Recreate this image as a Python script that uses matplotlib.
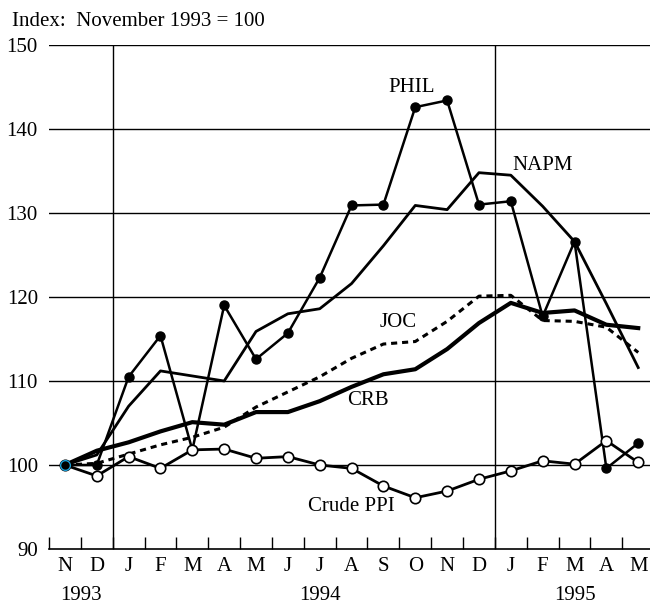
import matplotlib
matplotlib.use("Agg")
import matplotlib.pyplot as plt
import matplotlib.transforms as mtransforms

plt.rcParams['font.family'] = ['Liberation Serif', 'DejaVu Serif']

months = ["N", "D", "J", "F", "M", "A", "M", "J", "J", "A", "S", "O",
          "N", "D", "J", "F", "M", "A", "M"]
years = ["1993", "1994", "1995"]
year_pos = [0.5, 8, 16]

# Index: November 1993 = 100
phil = [100.0, 100.0, 110.5, 115.4, 101.8, 119.0, 112.6, 115.7, 122.3, 130.9,
        131.0, 142.6, 143.4, 131.0, 131.4, 117.7, 126.6, 99.6, 102.6]
napm = [100.0, 101.2, 107.0, 111.2, 110.6, 110.0, 115.9, 118.0, 118.6, 121.6,
        126.1, 130.9, 130.4, 134.8, 134.5, 130.8, 126.6, 119.2, 111.6]
joc = [100.0, 100.2, 101.3, 102.4, 103.3, 104.5, 106.9, 108.7, 110.5, 112.7,
       114.4, 114.7, 117.1, 120.1, 120.2, 117.2, 117.1, 116.4, 113.4]
crb = [100.0, 101.7, 102.7, 104.0, 105.1, 104.8, 106.3, 106.3, 107.6, 109.3,
       110.8, 111.4, 113.8, 116.9, 119.3, 118.1, 118.4, 116.7, 116.3]
ppi = [100.0, 98.7, 101.0, 99.6, 101.8, 101.9, 100.8, 101.0, 100.0, 99.6,
       97.5, 96.1, 96.9, 98.3, 99.3, 100.5, 100.1, 102.9, 100.3]

x = list(range(len(months)))
fs = 15

fig = plt.figure(figsize=(6.5, 6.04), dpi=100)
ax = fig.add_axes([49 / 650, 1 - 549 / 604, 1 - 49 / 650, (549 - 45) / 604])

for v in [100, 110, 120, 130, 140, 150]:
    ax.axhline(v, color='black', lw=1.0, zorder=1)
for v in [1.5, 13.5]:
    ax.axvline(v, color='black', lw=1.0, zorder=1)

ax.plot(x, napm, color='black', lw=2.0, zorder=3)
ax.plot(x, phil, color='black', lw=1.8, marker='o', ms=6.5, zorder=4)
ax.plot(x, crb, color='black', lw=3.0, zorder=3)
ax.plot(x, joc, color='black', lw=2.2, dashes=(2.0, 1.6), zorder=3)
ax.plot(x, ppi, color='black', lw=2.0, marker='o', ms=7.5, mfc='white',
        mec='black', mew=1.2, zorder=5)
# common starting point
ax.plot([0], [100], marker='o', ms=7, color='black', mec='#1a9fd8',
        mew=1.0, zorder=6)

ax.set_xlim(-0.5, 18.37)
ax.set_ylim(90, 150)

for s in ['top', 'right', 'left']:
    ax.spines[s].set_visible(False)
ax.spines['bottom'].set_linewidth(1.2)

ax.set_yticks([90, 100, 110, 120, 130, 140, 150])
ax.tick_params(axis='y', length=0, pad=8, labelsize=fs)
ax.set_xticks(x)
ax.set_xticklabels(months)
ax.tick_params(axis='x', length=0, pad=6, labelsize=fs)
ax.set_xticks([i - 0.5 for i in range(len(months))], minor=True)
ax.tick_params(axis='x', which='minor', direction='in', length=8.6,
               width=1.0)

trans = mtransforms.blended_transform_factory(ax.transData, ax.transAxes)
for yr, p in zip(years, year_pos):
    ax.text(p, -0.093, yr, transform=trans, ha='center', va='center',
            fontsize=fs)

fig.text(12 / 650, 1 - 22 / 604, "Index:  November 1993 = 100",
         ha='left', va='center', fontsize=fs)

ax.text(10.88, 145.0, "PHIL", ha='center', va='center', fontsize=fs)
ax.text(15.0, 135.7, "NAPM", ha='center', va='center', fontsize=fs)
ax.text(10.45, 117.0, "JOC", ha='center', va='center', fontsize=fs)
ax.text(9.5, 107.7, "CRB", ha='center', va='center', fontsize=fs)
ax.text(9.0, 95.1, "Crude PPI", ha='center', va='center', fontsize=fs)

fig.savefig("out.png", dpi=100)
